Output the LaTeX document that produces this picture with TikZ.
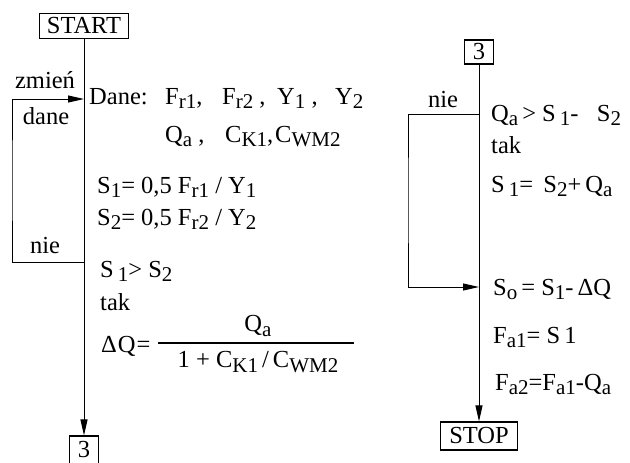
\documentclass[tikz,border=0pt]{standalone}
\usepackage{fontspec}
\setmainfont{Liberation Serif}
\usetikzlibrary{arrows.meta,positioning}

% lowered index, set nearly as large as the letter
\newcommand{\lo}[1]{\raisebox{-0.4ex}{\fontsize{21}{21}\selectfont #1}}

\begin{document}
\begin{tikzpicture}[
    x=1pt, y=-1pt,
    font=\fontsize{24.5}{28}\selectfont,
    >={Triangle[length=16pt, width=7pt]},
    term/.style={draw, line width=1.1pt, inner xsep=7pt, inner ysep=0pt, minimum height=25pt},
    flow/.style={->, line width=1pt},
    txt/.style={anchor=base west, inner sep=0pt},
    lbl/.style={inner sep=0pt}
]
    \useasboundingbox (0,0) rectangle (630,463);

    % left part
    \node[term] (start) at (84,26) {START};
    \node[term, minimum height=28pt, inner xsep=8pt] (lthree) at (84,450) {3};
    \coordinate (ljoin) at (84,99);
    \coordinate (lback) at (84,262);
    \coordinate (lfar) at (12,180);

    \draw[flow] (start) -- (lthree);
    \draw[flow] (lback) -| (lfar) |- (ljoin);

    \node[lbl] (zmien) at (45,80) {zmień};
    \node[lbl] (dane) at (46,116) {dane};
    \node[lbl] (lnie) at (45,246) {nie};

    \node[txt] (given) at (89,104) {Dane:};
    \node[txt] (fr1) at (165,104) {F\lo{r1},};
    \node[txt] (fr2) at (222,104) {F\lo{r2} ,};
    \node[txt] (yone) at (277,104) {Y\lo{1} ,};
    \node[txt] (ytwo) at (335,104) {Y\lo{2}};
    \node[txt] (qa) at (165,142) {Q\lo{a} ,};
    \node[txt] (ck) at (225,142) {C\lo{K1},};
    \node[txt] (cwm) at (275,142) {C\lo{WM2}};

    \node[txt] (sone) at (97,193) {S\lo{1}= 0,5 F\lo{r1} / Y\lo{1}};
    \node[txt] (stwo) at (97,225) {S\lo{2}= 0,5 F\lo{r2} / Y\lo{2}};
    \node[txt] (cmp) at (100,277) {S\,\lo{1}> S\lo{2}};
    \node[txt] (ltak) at (100,310) {tak};
    \node[txt] (dq) at (101,352) {Δ\kern1pt Q\kern1pt =};
    \node[lbl] (dqnum) at (258,326) {Q\lo{a}};
    \node[lbl] (dqden) at (258,362) {1 + C\lo{K1}\,/\,C\lo{WM2}};
    \draw[line width=1.8pt] (158,343) -- (354,343);

    % right part
    \node[term, minimum height=24pt, inner xsep=8pt] (rthree) at (479,52) {3};
    \node[term, minimum height=28pt, inner xsep=9pt] (stop) at (479,436) {STOP};
    \coordinate (rback) at (479,114);
    \coordinate (rjoin) at (479,287);
    \coordinate (rfar) at (408,200);

    \draw[flow] (rthree) -- (stop);
    \draw[flow] (rback) -| (rfar) |- (rjoin);

    \node[lbl] (rnie) at (443,100) {nie};

    \node[txt] (test) at (491,121) {Q\lo{a}\,> S\,\lo{1}-\ \ \ S\lo{2}};
    \node[txt] (rtak) at (491,153) {tak};
    \node[txt] (snew) at (491,192) {S\,\lo{1}=\, S\lo{2}+\,Q\lo{a}};
    \node[txt] (szero) at (493,295) {S\lo{o}\,= S\lo{1}-\,ΔQ};
    \node[txt] (faone) at (493,343) {F\lo{a1}= S\,1};
    \node[txt] (fatwo) at (495,390) {F\lo{a2}=F\lo{a1}-Q\lo{a}};
\end{tikzpicture}
\end{document}
